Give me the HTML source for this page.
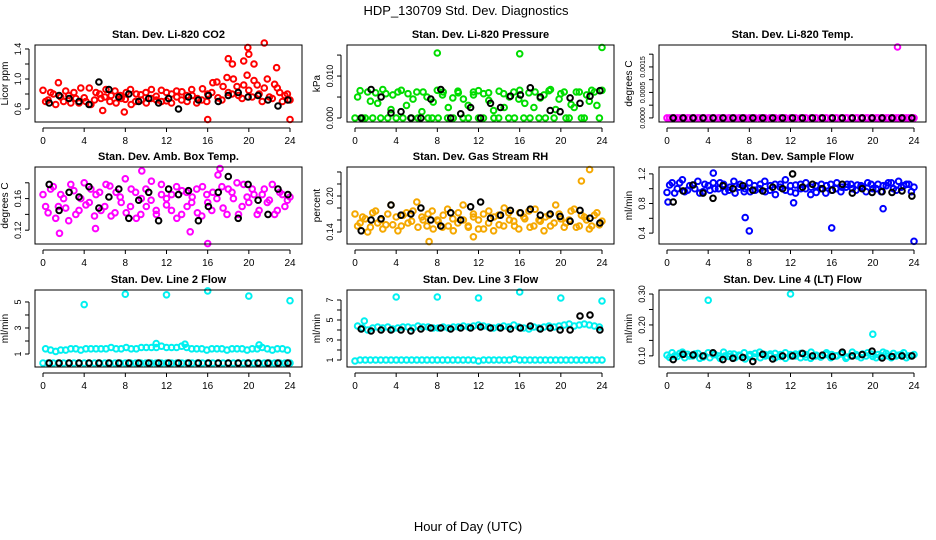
<!DOCTYPE html>
<html><head><meta charset="utf-8">
<style>
html,body{margin:0;padding:0;background:#fff;}
svg{display:block;font-family:"Liberation Sans",Arial,sans-serif;}
</style></head>
<body>
<svg id="chart" width="936" height="540" viewBox="0 0 936 540">
<text x="466" y="15" text-anchor="middle" font-size="13">HDP_130709  Std. Dev. Diagnostics</text>
<text x="468" y="531" text-anchor="middle" font-size="13">Hour of Day (UTC)</text>
</svg>
<script>
const xTicks = [0,4,8,12,16,20,24];

// Panel 1: CO2
const co2A = [0.85,0.72,0.80,0.95,0.70,0.78,0.82,0.68,0.75,0.88,0.72,0.80,0.76,0.70,0.84,0.78,0.73,0.86,0.70,0.79,0.82,0.74,0.77,0.85,0.71,0.80,0.76,0.83,0.70,0.78,0.74,0.87,0.80,0.95,0.75,0.90,0.82,1.00,0.78,0.92,0.85,0.98,0.80,0.88,0.76,0.93,0.82,0.78,0.72];
const co2B = [0.70,0.82,0.66,0.76,0.84,0.68,0.74,0.88,0.70,0.66,0.82,0.74,0.86,0.78,0.68,0.74,0.82,0.66,0.80,0.72,0.68,0.86,0.72,0.70,0.82,0.68,0.84,0.72,0.78,0.86,0.68,0.72,0.70,0.82,0.96,0.72,1.02,0.80,0.90,0.74,1.05,0.76,0.92,0.70,1.00,0.74,0.88,0.70,0.80];
const co2K = [0.68,0.78,0.74,0.70,0.66,0.96,0.86,0.76,0.80,0.70,0.74,0.68,0.74,0.60,0.76,0.72,0.78,0.70,0.78,0.82,0.76,0.78,0.72,0.64,0.72];
const co2OX = [16,18,18.4,19.5,19.9,20,20.5,21.5,22.7,24,7.9,5.8];
const co2OY = [0.46,1.27,1.20,1.24,1.42,1.33,1.20,1.48,1.15,0.46,0.56,0.58];

// Panel 2: Pressure
const prA = [0,0.0065,0,0.004,0.006,0,0.0058,0.002,0,0.0066,0.003,0,0.0062,0.0015,0.005,0,0.0066,0.0055,0,0.0048,0.0064,0,0.003,0.0062,0,0.0058,0.0042,0,0.0064,0.0025,0.005,0,0.0066,0.0035,0,0.0062,0.0048,0,0.0068,0.002,0.0058,0,0.0032,0.0062,0,0.0055,0.0066,0.003,0.0066];
const prB = [0.005,0,0.0062,0,0.0035,0.0068,0,0.0055,0.0062,0,0.0058,0.0045,0,0.0062,0,0.0038,0,0.0062,0.0025,0,0.006,0.0045,0,0.0055,0.0065,0,0.006,0.0018,0,0.0058,0,0.0062,0.0045,0,0.006,0.0025,0,0.0055,0.0065,0,0.0045,0.0062,0,0.0025,0.0062,0,0.004,0.0062,0];
const prK = [0,0.0068,0.005,0.0012,0.0015,0,0,0.0045,0.0068,0,0.001,0.0025,0,0.0035,0.0025,0.0052,0.0055,0.0072,0.005,0.0018,0.0015,0.0048,0.0035,0.0052,0.0065];
const prOX = [8,16,24];
const prOY = [0.0155,0.0153,0.0168];

// Panel 3: Temp
const tpA = [0,0,0,0,0,0,0,0,0,0,0,0,0,0,0,0,0,0,0,0,0,0,0,0,0,0,0,0,0,0,0,0,0,0,0,0,0,0,0,0,0,0,0,0,0,0,0,0,0];
const tpB = [0,0,0,0,0,0,0,0,0,0,0,0,0,0,0,0,0,0,0,0,0,0,0,0,0,0,0,0,0,0,0,0,0,0,0,0,0,0,0,0,0,0,0,0,0,0,0,0,0];
const tpK = [0,0,0,0,0,0,0,0,0,0,0,0,0,0,0,0,0,0,0,0,0,0,0,0,0];
const tpOX = [22.4];
const tpOY = [0.00139];

// Panel 4: Amb box temp
const abA = [0.165,0.142,0.175,0.150,0.160,0.132,0.170,0.145,0.180,0.155,0.138,0.168,0.150,0.176,0.142,0.162,0.185,0.150,0.168,0.140,0.172,0.158,0.145,0.178,0.152,0.165,0.135,0.170,0.150,0.162,0.142,0.175,0.155,0.168,0.190,0.148,0.172,0.160,0.140,0.178,0.155,0.165,0.145,0.172,0.158,0.140,0.168,0.150,0.162];
const abB = [0.150,0.172,0.135,0.165,0.148,0.178,0.140,0.160,0.152,0.172,0.165,0.145,0.178,0.138,0.168,0.155,0.142,0.172,0.135,0.160,0.150,0.182,0.140,0.165,0.160,0.145,0.175,0.140,0.168,0.155,0.172,0.138,0.165,0.145,0.160,0.175,0.140,0.168,0.180,0.150,0.162,0.172,0.140,0.165,0.155,0.178,0.145,0.165,0.158];
const abK = [0.178,0.145,0.168,0.162,0.175,0.148,0.162,0.172,0.135,0.158,0.168,0.132,0.172,0.165,0.170,0.132,0.150,0.168,0.188,0.135,0.178,0.158,0.140,0.172,0.165];
const abOX = [1.6,5.1,16,17.2,9.6,14.3];
const abOY = [0.116,0.122,0.103,0.198,0.195,0.118];

// Panel 5: Gas stream RH
const rhA = [0.170,0.155,0.162,0.148,0.175,0.160,0.152,0.185,0.165,0.150,0.172,0.158,0.190,0.165,0.150,0.175,0.160,0.148,0.178,0.162,0.155,0.185,0.150,0.170,0.160,0.145,0.175,0.165,0.152,0.180,0.160,0.150,0.172,0.162,0.148,0.178,0.158,0.165,0.150,0.185,0.162,0.155,0.175,0.148,0.168,0.160,0.150,0.172,0.158];
const rhB = [0.150,0.165,0.140,0.172,0.155,0.145,0.170,0.152,0.142,0.168,0.155,0.175,0.148,0.160,0.170,0.145,0.158,0.168,0.150,0.142,0.172,0.160,0.148,0.165,0.145,0.170,0.155,0.142,0.168,0.150,0.172,0.158,0.145,0.165,0.175,0.150,0.160,0.142,0.168,0.155,0.170,0.148,0.160,0.178,0.150,0.165,0.145,0.168,0.152];
const rhK = [0.142,0.160,0.162,0.185,0.168,0.170,0.180,0.160,0.150,0.172,0.160,0.182,0.190,0.163,0.168,0.176,0.172,0.178,0.168,0.170,0.166,0.158,0.176,0.163,0.155];
const rhOX = [22,22.8,7.2,11.5];
const rhOY = [0.225,0.244,0.124,0.132];

// Panel 6: Sample flow
const sfA = [0.95,1.08,1.00,1.12,0.98,1.05,1.10,0.96,1.04,1.08,1.00,1.06,0.98,1.10,1.02,0.96,1.08,1.04,1.00,1.10,0.98,1.06,1.02,1.12,0.96,1.05,1.00,1.08,1.02,0.95,1.06,1.04,0.98,1.08,1.02,1.06,1.00,1.05,1.02,1.08,1.00,1.06,1.04,1.08,1.00,1.10,1.04,1.06,1.02];
const sfB = [1.05,0.94,1.08,0.96,1.04,1.00,0.94,1.06,0.98,1.00,1.08,0.96,1.02,0.94,1.06,1.00,0.96,0.98,1.06,0.96,1.04,0.92,1.06,0.98,1.04,0.94,1.06,1.00,0.92,1.04,1.00,0.94,1.06,1.00,0.96,1.02,1.06,0.98,1.04,0.96,1.06,1.00,0.96,1.04,1.08,0.98,1.02,1.06,0.96];
const sfK = [0.82,0.97,1.05,0.94,0.87,1.04,1.00,1.04,0.98,0.97,1.02,1.00,1.20,1.02,1.06,1.00,0.98,1.06,0.94,1.00,0.95,0.96,0.95,0.97,0.90];
const sfOX = [7.6,8,16,21,24,4.5,12.3,0.1];
const sfOY = [0.61,0.43,0.47,0.73,0.29,1.21,0.81,0.82];

// Panel 7: Line 2 flow
const l2A = [0.3,0.3,0.3,0.3,0.3,0.3,0.3,0.3,0.3,0.3,0.3,0.3,0.3,0.3,0.3,0.3,0.3,0.3,0.3,0.3,0.3,0.3,0.3,0.3,0.3,0.3,0.3,0.3,0.3,0.3,0.3,0.3,0.3,0.3,0.3,0.3,0.3,0.3,0.3,0.3,0.3,0.3,0.3,0.3,0.3,0.3,0.3,0.3,0.3];
const l2B = [1.4,1.3,1.2,1.3,1.3,1.4,1.4,1.3,1.4,1.4,1.4,1.4,1.4,1.5,1.4,1.4,1.5,1.4,1.4,1.5,1.5,1.5,1.5,1.6,1.5,1.5,1.5,1.6,1.5,1.4,1.4,1.4,1.3,1.4,1.4,1.4,1.3,1.4,1.4,1.4,1.3,1.4,1.4,1.5,1.4,1.3,1.4,1.4,1.3];
const l2K = [0.3,0.3,0.3,0.3,0.3,0.3,0.3,0.3,0.3,0.3,0.3,0.3,0.3,0.3,0.3,0.3,0.3,0.3,0.3,0.3,0.3,0.3,0.3,0.3,0.3];
const l2OX = [4,8,12,16,20,24,11,13.8,21];
const l2OY = [4.8,5.6,5.55,5.85,5.45,5.1,1.8,1.75,1.7];

// Panel 8: Line 3 flow
const l3A = [0.9,1.0,1.0,1.0,1.0,1.0,1.0,1.0,1.0,1.0,1.0,1.0,1.0,1.0,1.0,1.0,1.0,1.0,1.0,1.0,1.0,1.0,1.0,1.0,0.9,1.0,1.0,1.0,1.0,1.0,1.0,1.1,1.0,1.0,1.0,1.0,1.0,1.0,1.0,1.0,1.0,1.0,1.0,1.0,1.0,1.0,1.0,1.0,1.0];
const l3B = [4.4,4.2,4.0,4.2,4.3,4.2,4.3,4.1,4.2,4.3,4.3,4.2,4.4,4.3,4.3,4.2,4.2,4.3,4.2,4.3,4.3,4.4,4.3,4.4,4.5,4.4,4.3,4.2,4.3,4.4,4.3,4.5,4.3,4.2,4.1,4.3,4.2,4.3,4.4,4.3,4.4,4.5,4.6,4.4,4.5,4.6,4.5,4.4,4.3];
const l3K = [4.1,3.9,4.0,4.0,4.0,3.9,4.1,4.2,4.2,4.1,4.2,4.2,4.3,4.2,4.2,4.1,4.2,4.4,4.1,4.2,4.0,4.0,5.4,5.5,4.0];
const l3OX = [4,8,12,16,20,24,0.9];
const l3OY = [7.3,7.3,7.2,7.8,7.2,6.9,4.9];

// Panel 9: Line 4 (LT) flow
const l4A = [0.102,0.110,0.098,0.112,0.105,0.100,0.108,0.096,0.110,0.104,0.100,0.112,0.098,0.106,0.102,0.110,0.100,0.096,0.112,0.104,0.100,0.108,0.098,0.110,0.104,0.100,0.108,0.096,0.112,0.102,0.098,0.110,0.104,0.100,0.108,0.096,0.112,0.100,0.106,0.110,0.098,0.104,0.112,0.100,0.108,0.102,0.110,0.100,0.104];
const l4B = [0.095,0.100,0.108,0.094,0.100,0.106,0.092,0.100,0.094,0.104,0.092,0.100,0.106,0.094,0.100,0.090,0.104,0.108,0.094,0.100,0.106,0.094,0.104,0.092,0.100,0.106,0.094,0.104,0.092,0.100,0.096,0.104,0.094,0.100,0.106,0.092,0.100,0.104,0.094,0.100,0.106,0.094,0.100,0.108,0.094,0.100,0.104,0.094,0.100];
const l4K = [0.088,0.105,0.103,0.100,0.110,0.088,0.092,0.095,0.082,0.105,0.090,0.100,0.100,0.108,0.100,0.102,0.098,0.112,0.100,0.104,0.115,0.093,0.098,0.100,0.100];
const l4OX = [4,12,20];
const l4OY = [0.28,0.30,0.17];

const panels = [
 {name:'co2',title:'Stan. Dev. Li-820 CO2',ylab:'Licor ppm',col:'#ff0000',x0:35,x1:302,y0:45,y1:122,xa:43,xb:290,ylo:0.427,yhi:1.453,yt:[0.6,0.8,1.0,1.2,1.4],yl:['0.6','','1.0','','1.4'],fs:9,A:co2A,B:co2B,K:co2K,OX:co2OX,OY:co2OY},
 {name:'pressure',title:'Stan. Dev. Li-820 Pressure',ylab:'kPa',col:'#00dd00',x0:347,x1:614,y0:45,y1:122,xa:355,xb:602,ylo:-0.00095,yhi:0.0174,yt:[0,0.005,0.01,0.015],yl:['0.000','','0.010',''],fs:9,A:prA,B:prB,K:prK,OX:prOX,OY:prOY},
 {name:'temp',title:'Stan. Dev. Li-820 Temp.',ylab:'degrees C',col:'#ff00ff',x0:659,x1:926,y0:45,y1:122,xa:667,xb:914,ylo:-0.00008,yhi:0.00143,yt:[0,0.00025,0.0005,0.00075,0.001,0.00125],yl:['0.0000','','0.0005','','0.0015',''],fs:7,A:tpA,B:tpB,K:tpK,OX:tpOX,OY:tpOY},
 {name:'amb-box-temp',title:'Stan. Dev. Amb. Box Temp.',ylab:'degrees C',col:'#ff00ff',x0:35,x1:302,y0:167,y1:244,xa:43,xb:290,ylo:0.1025,yhi:0.2,yt:[0.12,0.14,0.16,0.18],yl:['0.12','','0.16',''],fs:9,A:abA,B:abB,K:abK,OX:abOX,OY:abOY},
 {name:'gas-rh',title:'Stan. Dev. Gas Stream RH',ylab:'percent',col:'#f5a800',x0:347,x1:614,y0:167,y1:244,xa:355,xb:602,ylo:0.120,yhi:0.2483,yt:[0.14,0.16,0.18,0.20,0.22,0.24],yl:['0.14','','','0.20','',''],fs:9,A:rhA,B:rhB,K:rhK,OX:rhOX,OY:rhOY},
 {name:'sample-flow',title:'Stan. Dev. Sample Flow',ylab:'ml/min',col:'#0000ff',x0:659,x1:926,y0:167,y1:244,xa:667,xb:914,ylo:0.253,yhi:1.293,yt:[0.4,0.6,0.8,1.0,1.2],yl:['0.4','','0.8','','1.2'],fs:9,A:sfA,B:sfB,K:sfK,OX:sfOX,OY:sfOY},
 {name:'line2-flow',title:'Stan. Dev. Line 2 Flow',ylab:'ml/min',col:'#00f0f0',x0:35,x1:302,y0:290,y1:367,xa:43,xb:290,ylo:0.0,yhi:5.92,yt:[1,2,3,4,5],yl:['1','','3','','5'],fs:9,A:l2A,B:l2B,K:l2K,OX:l2OX,OY:l2OY},
 {name:'line3-flow',title:'Stan. Dev. Line 3 Flow',ylab:'ml/min',col:'#00f0f0',x0:347,x1:614,y0:290,y1:367,xa:355,xb:602,ylo:0.3,yhi:8.0,yt:[1,2,3,4,5,6,7],yl:['1','','3','','5','','7'],fs:9,A:l3A,B:l3B,K:l3K,OX:l3OX,OY:l3OY},
 {name:'line4-flow',title:'Stan. Dev. Line 4 (LT) Flow',ylab:'ml/min',col:'#00f0f0',x0:659,x1:926,y0:290,y1:367,xa:667,xb:914,ylo:0.064,yhi:0.313,yt:[0.10,0.15,0.20,0.25,0.30],yl:['0.10','','0.20','','0.30'],fs:9,A:l4A,B:l4B,K:l4K,OX:l4OX,OY:l4OY}
];

const svg = document.getElementById('chart');
const NS = 'http://www.w3.org/2000/svg';
function mk(tag, attrs, parent){
  const e = document.createElementNS(NS, tag);
  for (const k in attrs) e.setAttribute(k, attrs[k]);
  parent.appendChild(e);
  return e;
}
function circle(g, cx, cy, col){
  const c = mk('circle', {cx:cx.toFixed(1), cy:cy.toFixed(1), r:2.8, fill:'none', stroke:col, 'stroke-width':2}, g);
  
  
}

panels.forEach(p => {
  const g = mk('g', {}, svg);
  
  
  const xs = h => p.xa + (p.xb - p.xa) * h / 24;
  const ys = v => p.y1 - (v - p.ylo) / (p.yhi - p.ylo) * (p.y1 - p.y0);
  const cxm = (p.x0 + p.x1) / 2;
  const t = mk('text', {x:cxm, y:p.y0 - 7, 'text-anchor':'middle', 'font-size':11, 'font-weight':'bold'}, g);
  t.textContent = p.title;
  
  
  const pts = mk('g', {}, g);
  
  
  const nA = p.A.length;
  p.A.forEach((v,i) => circle(pts, xs(i*24/(nA-1)), ys(v), p.col));
  const nB = p.B.length;
  p.B.forEach((v,i) => circle(pts, xs(0.25 + i*23.5/(nB-1)), ys(v), p.col));
  p.OX.forEach((h,i) => circle(pts, xs(h), ys(p.OY[i]), p.col));
  const nK = p.K.length;
  p.K.forEach((v,i) => circle(pts, xs(0.6 + i*23.2/(nK-1)), ys(v), '#000'));
  const b = mk('rect', {x:p.x0, y:p.y0, width:p.x1-p.x0, height:p.y1-p.y0, fill:'none', stroke:'#000', 'stroke-width':1}, g);
  
  
  const xa = mk('g', {}, g);
  
  
  mk('line', {x1:xs(0), x2:xs(24), y1:p.y1+6, y2:p.y1+6, stroke:'#000'}, xa);
  xTicks.forEach(h => {
    mk('line', {x1:xs(h), x2:xs(h), y1:p.y1+6, y2:p.y1+10, stroke:'#000'}, xa);
    const tl = mk('text', {x:xs(h), y:p.y1+22, 'text-anchor':'middle', 'font-size':10}, xa);
    tl.textContent = h;
  });
  const ya = mk('g', {}, g);
  
  
  const yt0 = ys(p.yt[0]), yt1 = ys(p.yt[p.yt.length-1]);
  mk('line', {x1:p.x0-6, x2:p.x0-6, y1:yt0, y2:yt1, stroke:'#000'}, ya);
  p.yt.forEach((v,i) => {
    const y = ys(v);
    mk('line', {x1:p.x0-10, x2:p.x0-6, y1:y, y2:y, stroke:'#000'}, ya);
    if (p.yl[i]) {
      const tl = mk('text', {x:p.x0-14, y:y, 'text-anchor':'middle', 'font-size':p.fs, transform:`rotate(-90 ${p.x0-14} ${y})`}, ya);
      tl.textContent = p.yl[i];
    }
  });
  const yl = mk('text', {x:p.x0-27, y:(p.y0+p.y1)/2, 'text-anchor':'middle', 'font-size':10, transform:`rotate(-90 ${p.x0-27} ${(p.y0+p.y1)/2})`}, g);
  yl.textContent = p.ylab;
  
  
});
</script>
</body></html>
